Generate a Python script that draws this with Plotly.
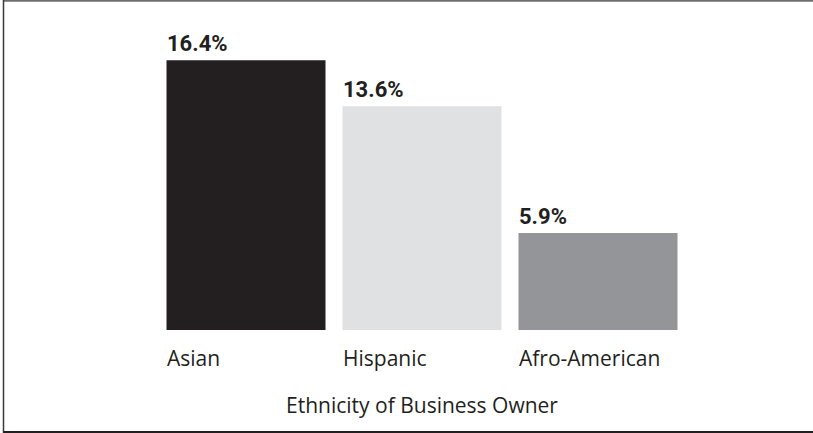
import plotly.graph_objects as go

categories = ["Asian", "Hispanic", "Afro-American"]
shares = [16.4, 13.6, 5.9]
value_labels = ["16.4%", "13.6%", "5.9%"]
bar_colors = ["#231f20", "#e0e1e3", "#939598"]
axis_title = "Ethnicity of Business Owner"

W, H = 813, 433
ML, MR, MT, MB = 158, 127, 34, 103
plot_w = W - ML - MR
plot_h = H - MT - MB
BAR_PX = 159
STEP_PX = plot_w / len(categories)

ink = "#231f20"
bold_font = "Roboto, 'DejaVu Sans', sans-serif"
text_font = "'Open Sans', 'DejaVu Sans', sans-serif"

fig = go.Figure(
    go.Bar(
        x=categories,
        y=shares,
        marker=dict(color=bar_colors, line=dict(width=0)),
        hoverinfo="skip",
    )
)

# value labels, left-aligned with each bar's left edge
for cat, val, lab in zip(categories, shares, value_labels):
    fig.add_annotation(
        x=cat, y=val, xref="x", yref="y",
        text=f"<b>{lab}</b>", showarrow=False,
        xanchor="left", yanchor="bottom",
        xshift=-BAR_PX / 2 - 2, yshift=2,
        font=dict(family=bold_font, size=22, color=ink),
    )
    # category labels under the bars, also left-aligned
    fig.add_annotation(
        x=cat, y=0, xref="x", yref="y",
        text=cat, showarrow=False,
        xanchor="left", yanchor="top",
        xshift=-BAR_PX / 2 - 2, yshift=-12,
        font=dict(family=text_font, size=21, color=ink),
    )


def px_x(p):
    return (p - ML) / plot_w


def px_y(p):
    return (H - MB - p) / plot_h


# axis title centred under the bars
fig.add_annotation(
    x=0.5, y=px_y(405), xref="paper", yref="paper",
    text=axis_title, showarrow=False,
    xanchor="center", yanchor="middle",
    font=dict(family=text_font, size=21, color=ink),
)

# frame on the top, left and bottom edges
fig.add_shape(type="line", xref="paper", yref="paper",
              x0=px_x(3.5), x1=px_x(813), y0=px_y(0.8), y1=px_y(0.8),
              line=dict(color="#6d6e71", width=2))
fig.add_shape(type="line", xref="paper", yref="paper",
              x0=px_x(3.5), x1=px_x(3.5), y0=px_y(0), y1=px_y(433),
              line=dict(color="#3a3a3a", width=1.5))
fig.add_shape(type="line", xref="paper", yref="paper",
              x0=px_x(3.5), x1=px_x(813), y0=px_y(432), y1=px_y(432),
              line=dict(color="#231f20", width=2))

fig.update_layout(
    width=W, height=H,
    margin=dict(l=ML, r=MR, t=MT, b=MB, pad=0),
    paper_bgcolor="white", plot_bgcolor="white",
    bargap=1 - BAR_PX / STEP_PX,
    showlegend=False,
    xaxis=dict(showticklabels=False, showgrid=False, zeroline=False,
               showline=False, ticks="", range=[-0.5, 2.5], fixedrange=True),
    yaxis=dict(showticklabels=False, showgrid=False, zeroline=False,
               showline=False, ticks="", range=[0, 18], fixedrange=True),
)

fig.write_html("out.html", config={"displayModeBar": False})
